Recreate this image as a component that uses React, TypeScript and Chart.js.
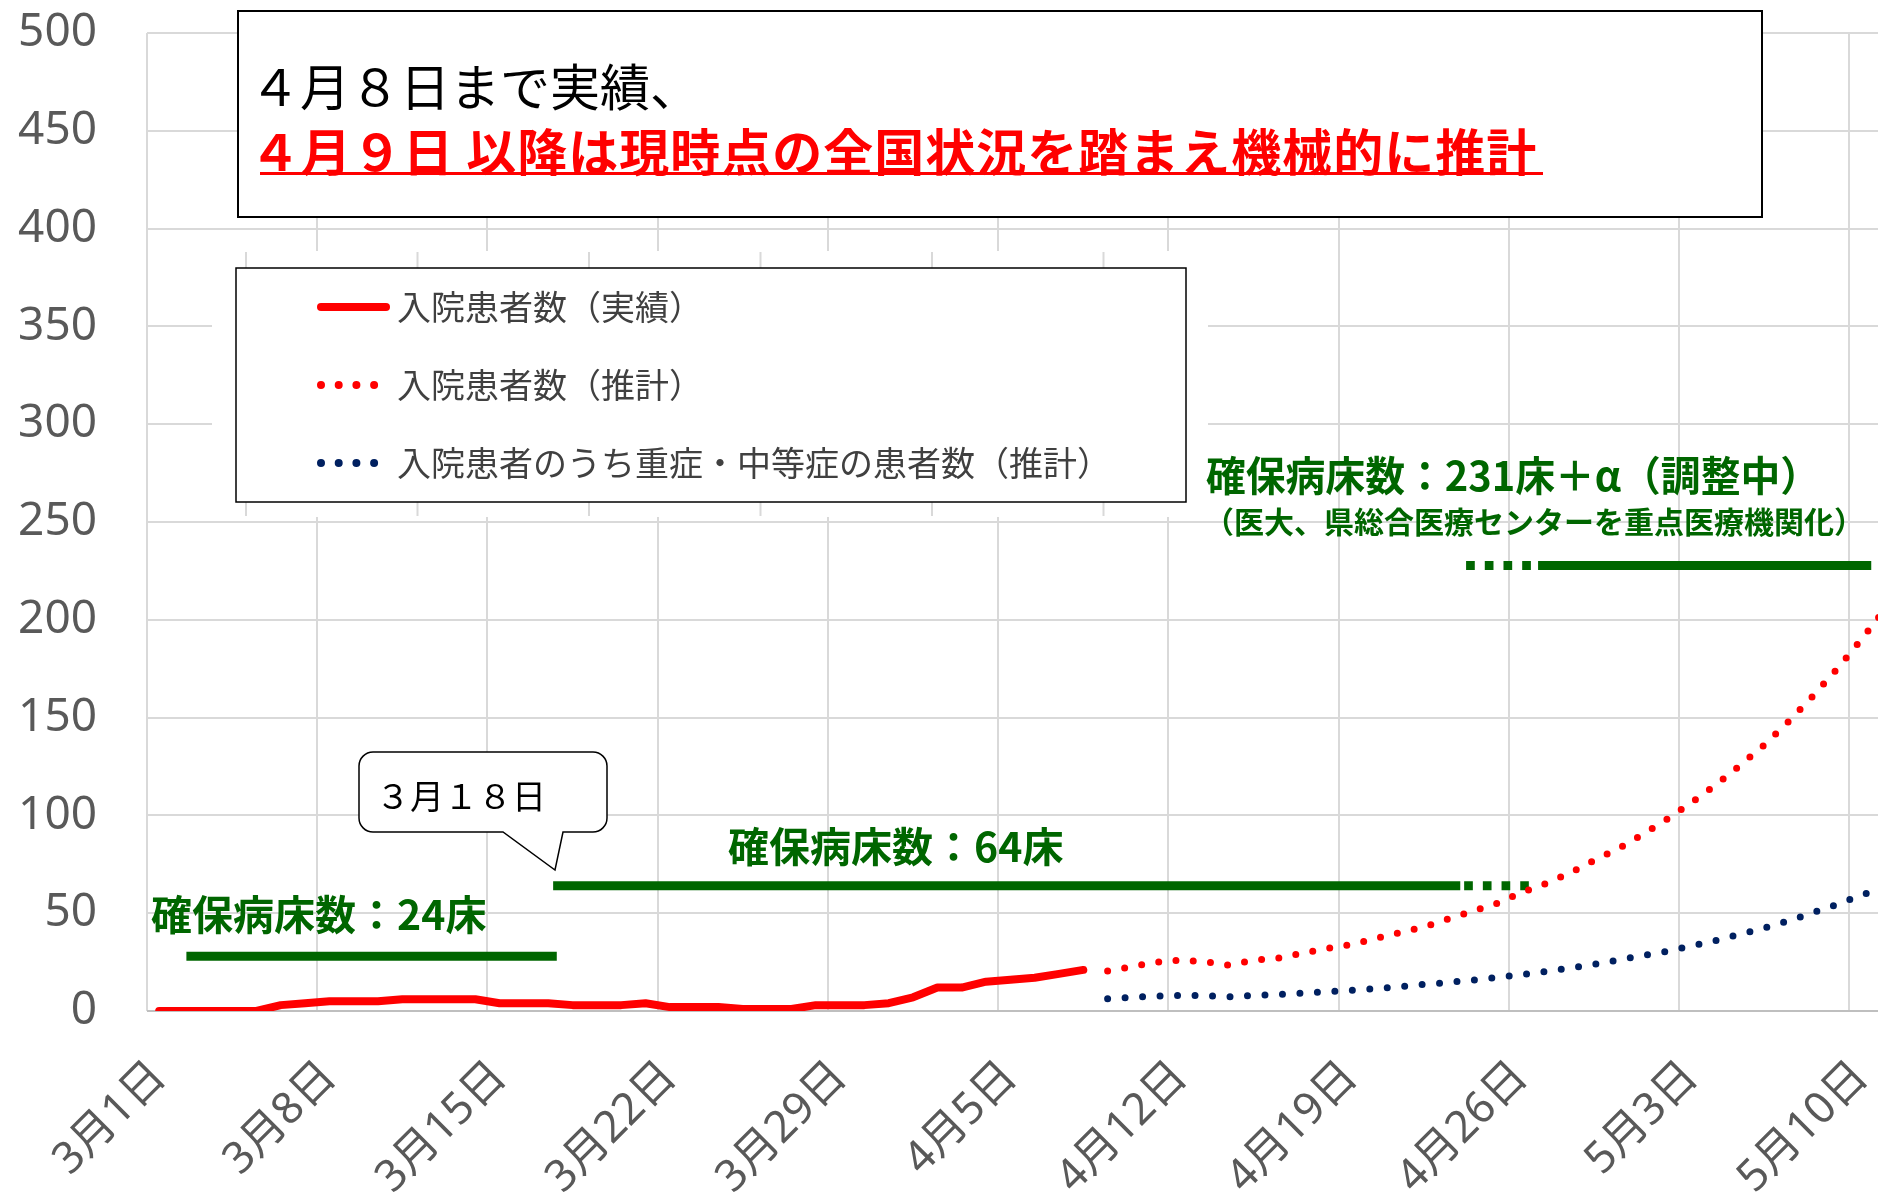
import React, { useEffect, useRef } from "react";
import { Chart, registerables } from "chart.js";

Chart.register(...registerables);

// ---------- data ----------
const categories: string[] = [
  "3月1日","3月2日","3月3日","3月4日","3月5日","3月6日","3月7日","3月8日","3月9日","3月10日",
  "3月11日","3月12日","3月13日","3月14日","3月15日","3月16日","3月17日","3月18日","3月19日","3月20日",
  "3月21日","3月22日","3月23日","3月24日","3月25日","3月26日","3月27日","3月28日","3月29日","3月30日",
  "3月31日","4月1日","4月2日","4月3日","4月4日","4月5日","4月6日","4月7日","4月8日","4月9日",
  "4月10日","4月11日","4月12日","4月13日","4月14日","4月15日","4月16日","4月17日","4月18日","4月19日",
  "4月20日","4月21日","4月22日","4月23日","4月24日","4月25日","4月26日","4月27日","4月28日","4月29日",
  "4月30日","5月1日","5月2日","5月3日","5月4日","5月5日","5月6日","5月7日","5月8日","5月9日",
  "5月10日","5月11日",
];

// 3/1 - 4/8 actual inpatients
const actualPatients: number[] = [
  0, 0, 0, 0, 0, 3, 4, 5, 5, 5, 6, 6, 6, 6, 4, 4, 4, 3, 3, 3,
  4, 2, 2, 2, 1, 1, 1, 3, 3, 3, 4, 7, 12, 12, 15, 16, 17, 19, 21,
];

// index where the projection starts (4/9)
const projectionStart = 39;

// 4/9 - 5/11 projected inpatients
const projectedPatients: number[] = [
  20.5, 22.7, 25, 26, 25.2, 23.4, 26, 27, 29.5, 32, 34, 37, 40, 43, 47, 51, 55,
  60.5, 65, 70.5, 77, 83, 90.3, 98, 106.5, 115.5, 125.5, 136, 148, 161, 175, 190, 206,
];

// 4/9 - 5/11 projected severe / moderate patients
const projectedSevere: number[] = [
  6.3, 7.0, 7.6, 8.0, 7.8, 7.3, 8.0, 8.4, 9.1, 9.8, 10.6, 11.4, 12.4, 13.6, 14.6, 15.8, 17.1,
  18.6, 20.2, 22.0, 23.8, 26.1, 28.4, 30.5, 33.2, 36, 39.2, 42.5, 46.1, 50.3, 54.5, 59.3, 63.5,
];

// secured beds (value, start/end positions on the day axis)
const bed24Y = 28;
const bed24X = [1.12, 16.35];
const bed64Y = 64;
const bed64SolidX = [16.2, 53.5];
const bed64DashX = [53.66, 56.32];
const bed231Y = 227.7;
const bed231DashX = [53.74, 56.66];
const bed231SolidX = [56.7, 70.4];

const yTicks = { min: 0, max: 500, step: 50 };
const labelEvery = 7;

const seriesLabels = [
  "入院患者数（実績）",
  "入院患者数（推計）",
  "入院患者のうち重症・中等症の患者数（推計）",
];

// ---------- styles ----------
const RED = "#ff0000";
const NAVY = "#002060";
const GREEN = "#006600";
const GRID = "#d9d9d9";
const TICK = "#595959";
const JP = '"Noto Sans CJK JP", "Noto Sans", sans-serif';
const LATIN = '"Noto Sans", "Noto Sans CJK JP", sans-serif';

const W = 1878;
const H = 1194;
const CANVAS_W = 1898;
const PLOT_BOTTOM = 1011;

function seg(xs: number[], y: number) {
  return [
    { x: xs[0], y },
    { x: xs[1], y },
  ];
}

const overlayPlugin = {
  id: "overlays",
  afterDraw(chart: any) {
    const ctx: CanvasRenderingContext2D = chart.ctx;
    const ds = chart.data.datasets;
    ctx.save();

    // ---- top note box ----
    ctx.fillStyle = "#ffffff";
    ctx.fillRect(238, 11, 1524, 206);
    ctx.strokeStyle = "#000000";
    ctx.lineWidth = 2;
    ctx.strokeRect(238, 11, 1524, 206);

    ctx.textBaseline = "middle";
    ctx.textAlign = "left";
    ctx.fillStyle = "#000000";
    ctx.font = `400 50px ${JP}`;
    ctx.fillText("４月８日まで実績、", 250, 87);
    ctx.fillStyle = RED;
    ctx.font = `700 50px ${JP}`;
    (ctx as any).letterSpacing = "1px";
    ctx.fillText("４月９日 以降は現時点の全国状況を踏まえ機械的に推計", 250, 152);
    (ctx as any).letterSpacing = "0px";
    ctx.fillRect(260, 172, 1283, 3);

    // ---- legend (pasted panel with its own faint grid marks) ----
    ctx.fillStyle = "#ffffff";
    ctx.fillRect(212, 251, 996, 266);
    ctx.strokeStyle = GRID;
    ctx.lineWidth = 2;
    for (let k = 0; k < 6; k++) {
      const x = 246 + 171.5 * k;
      ctx.beginPath();
      ctx.moveTo(x, 252);
      ctx.lineTo(x, 268);
      ctx.moveTo(x, 502);
      ctx.lineTo(x, 516);
      ctx.stroke();
    }
    ctx.strokeStyle = "#000000";
    ctx.lineWidth = 1.5;
    ctx.strokeRect(236, 268, 950, 234);

    const rows = [307, 385, 463];
    for (let i = 0; i < 3; i++) {
      const d = ds[i];
      const y = rows[i];
      ctx.beginPath();
      ctx.strokeStyle = d.borderColor;
      ctx.lineCap = "round";
      ctx.lineWidth = 8;
      if (d.borderDash && d.borderDash.length) {
        ctx.setLineDash([0, 17.7]);
        ctx.moveTo(321, y);
        ctx.lineTo(375, y);
      } else {
        ctx.setLineDash([]);
        ctx.moveTo(321, y);
        ctx.lineTo(386, y);
      }
      ctx.stroke();
      ctx.setLineDash([]);
      ctx.fillStyle = "#404040";
      ctx.font = `400 34px ${JP}`;
      ctx.fillText(d.label, 397, y);
    }

    // ---- callout ----
    const bx = 359, by = 752, bw = 248, bh = 80, r = 14;
    ctx.beginPath();
    ctx.moveTo(bx + r, by);
    ctx.lineTo(bx + bw - r, by);
    ctx.arcTo(bx + bw, by, bx + bw, by + r, r);
    ctx.lineTo(bx + bw, by + bh - r);
    ctx.arcTo(bx + bw, by + bh, bx + bw - r, by + bh, r);
    ctx.lineTo(563, by + bh);
    ctx.lineTo(555, 870);
    ctx.lineTo(503, by + bh);
    ctx.lineTo(bx + r, by + bh);
    ctx.arcTo(bx, by + bh, bx, by + bh - r, r);
    ctx.lineTo(bx, by + r);
    ctx.arcTo(bx, by, bx + r, by, r);
    ctx.closePath();
    ctx.fillStyle = "#ffffff";
    ctx.fill();
    ctx.strokeStyle = "#000000";
    ctx.lineWidth = 1.5;
    ctx.stroke();
    ctx.fillStyle = "#000000";
    ctx.font = `400 34px ${JP}`;
    ctx.fillText("３月１８日", 376, 796);

    // ---- bed annotations ----
    ctx.fillStyle = GREEN;
    ctx.font = `700 41px ${JP}`;
    ctx.fillText("確保病床数：24床", 151, 914, 340);
    ctx.fillText("確保病床数：64床", 728, 846, 340);
    ctx.fillText("確保病床数：231床＋α（調整中）", 1206, 475, 614);
    ctx.font = `700 30px ${JP}`;
    ctx.fillText("（医大、県総合医療センターを重点医療機関化）", 1204, 522, 672);

    ctx.restore();
  },
};

export default function App() {
  const ref = useRef<HTMLCanvasElement | null>(null);

  useEffect(() => {
    if (!ref.current) return;
    const actualData = categories.map((_, i) =>
      i < actualPatients.length ? actualPatients[i] : null
    );
    const projData = categories.map((_, i) =>
      i >= projectionStart ? projectedPatients[i - projectionStart] ?? null : null
    );
    const severeData = categories.map((_, i) =>
      i >= projectionStart ? projectedSevere[i - projectionStart] ?? null : null
    );

    const greenBase = {
      xAxisID: "xl",
      borderColor: GREEN,
      backgroundColor: GREEN,
      borderWidth: 9,
      borderCapStyle: "butt",
      pointRadius: 0,
      fill: false,
      tension: 0,
    };

    const chart = new Chart(ref.current, {
      type: "line",
      data: {
        labels: categories,
        datasets: [
          {
            label: seriesLabels[0],
            data: actualData,
            borderColor: RED,
            backgroundColor: RED,
            borderWidth: 8,
            borderCapStyle: "round",
            borderJoinStyle: "round",
            pointRadius: 0,
            tension: 0,
          },
          {
            label: seriesLabels[1],
            data: projData,
            borderColor: RED,
            backgroundColor: RED,
            borderWidth: 7,
            borderDash: [0, 17.3],
            borderCapStyle: "round",
            pointRadius: 0,
            tension: 0,
          },
          {
            label: seriesLabels[2],
            data: severeData,
            borderColor: NAVY,
            backgroundColor: NAVY,
            borderWidth: 7,
            borderDash: [0, 17.5],
            borderCapStyle: "round",
            pointRadius: 0,
            tension: 0,
          },
          { ...greenBase, label: "bed24", data: seg(bed24X, bed24Y) },
          { ...greenBase, label: "bed64", data: seg(bed64SolidX, bed64Y) },
          { ...greenBase, label: "bed64b", data: seg(bed64DashX, bed64Y), borderDash: [8.7, 10] },
          { ...greenBase, label: "bed231a", data: seg(bed231DashX, bed231Y), borderDash: [8.7, 10] },
          { ...greenBase, label: "bed231b", data: seg(bed231SolidX, bed231Y) },
        ] as any,
      },
      options: {
        responsive: false,
        maintainAspectRatio: false,
        animation: false,
        devicePixelRatio: 1,
        layout: { padding: { top: 33, left: 0, right: 0, bottom: 0 } },
        plugins: {
          legend: { display: false },
          tooltip: { enabled: false },
        },
        scales: {
          x: {
            type: "category",
            offset: true,
            grid: {
              offset: true,
              drawTicks: false,
              lineWidth: 2,
              color: (c: any) =>
                typeof c.index === "number" && c.index % labelEvery === 0 ? GRID : "rgba(0,0,0,0)",
            },
            border: { display: false },
            ticks: {
              autoSkip: false,
              maxRotation: 45,
              minRotation: 45,
              padding: 40,
              color: TICK,
              font: { family: LATIN, size: 44 },
              callback: (_v: any, i: number) => (i % labelEvery === 0 ? categories[i] : ""),
            },
            afterFit: (s: any) => {
              s.height = H - PLOT_BOTTOM;
              s.paddingRight = 0;
              s.paddingLeft = 0;
            },
          },
          xl: {
            type: "linear",
            display: false,
            min: -0.5,
            max: categories.length - 0.5,
            offset: false,
          },
          y: {
            min: yTicks.min,
            max: yTicks.max,
            ticks: {
              stepSize: yTicks.step,
              padding: 50,
              color: TICK,
              font: { family: LATIN, size: 46 },
            },
            grid: {
              drawTicks: false,
              lineWidth: 2,
              color: (c: any) => (c.index === 0 ? "#bfbfbf" : GRID),
            },
            border: { display: false },
            afterFit: (s: any) => {
              s.width = 147;
              s.paddingTop = 0;
              s.paddingBottom = 0;
            },
          },
        },
      } as any,
      plugins: [overlayPlugin],
    });
    return () => chart.destroy();
  }, []);

  return (
    <div
      style={{
        position: "fixed",
        left: 0,
        top: 0,
        width: W,
        height: H,
        overflow: "hidden",
        background: "#ffffff",
      }}
    >
      <canvas ref={ref} width={CANVAS_W} height={H} style={{ width: CANVAS_W, height: H, display: "block" }} />
    </div>
  );
}
